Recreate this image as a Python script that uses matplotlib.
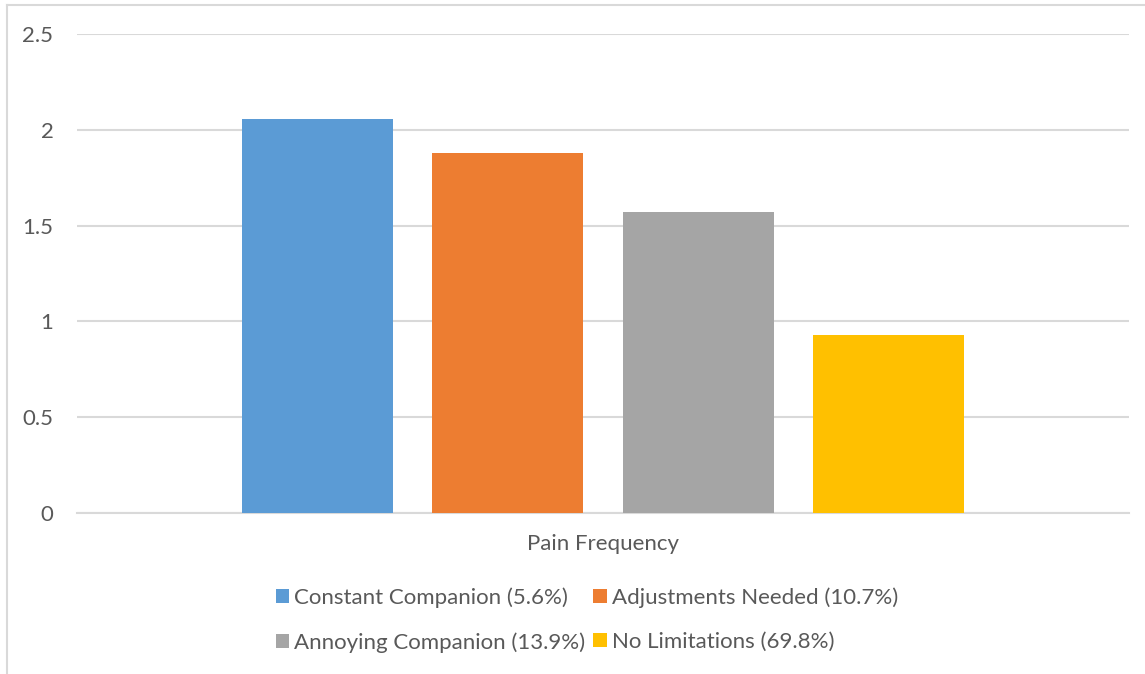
import matplotlib.pyplot as plt
from matplotlib.lines import Line2D

plt.rcParams['font.family'] = ['Lato', 'DejaVu Sans']

category = 'Pain Frequency'
series = ['Constant Companion (5.6%)', 'Adjustments Needed (10.7%)',
          'Annoying Companion (13.9%)', 'No Limitations (69.8%)']
values = [2.056, 1.879, 1.571, 0.929]
colors = ['#5B9BD5', '#ED7D31', '#A5A5A5', '#FFC000']
yticks = [0, 0.5, 1, 1.5, 2, 2.5]

text_color = '#595959'
grid_color = '#D9D9D9'

fig = plt.figure(figsize=(11.45, 6.74), dpi=100)
ax = fig.add_axes([77 / 1145, 161 / 674, 1052 / 1145, 479 / 674])

# one category, four series side by side
step = 0.1811
width = 0.1435
n = len(series)
bars = []
for i, (name, val, col) in enumerate(zip(series, values, colors)):
    offset = (i - (n - 1) / 2) * step
    bars.append(ax.bar(offset, val, width=width, color=col, label=name, zorder=3))

ax.set_xlim(-0.5, 0.5)
ax.set_ylim(0, 2.5)
ax.set_yticks(yticks)
ax.set_yticklabels(['0', '0.5', '1', '1.5', '2', '2.5'])
ax.set_xticks([0])
ax.set_xticklabels([category])
ax.tick_params(axis='y', length=0, pad=17, labelsize=16, labelcolor=text_color)
ax.tick_params(axis='x', length=0, pad=15, labelsize=16, labelcolor=text_color)
ax.yaxis.grid(True, color=grid_color, linewidth=1.5, zorder=0)
for s in ['left', 'right', 'top']:
    ax.spines[s].set_visible(False)
ax.spines['bottom'].set_color(grid_color)
ax.spines['bottom'].set_linewidth(1.5)

# legend fills row by row, so reorder for matplotlib's column-first layout
order = [0, 2, 1, 3]
leg = fig.legend([bars[i] for i in order], [series[i] for i in order],
                 loc='center', bbox_to_anchor=(587 / 1145, 1 - 620 / 674), ncol=2,
                 frameon=False, fontsize=16, handlelength=0.6, handleheight=0.6,
                 handletextpad=0.25, columnspacing=0.35, labelspacing=1.1)
for t in leg.get_texts():
    t.set_color(text_color)

# outer chart border (left and top edges)
fig.add_artist(Line2D([7 / 1145, 7 / 1145], [0, 1 - 5 / 674],
                      transform=fig.transFigure, color=grid_color, linewidth=1.5))
fig.add_artist(Line2D([7 / 1145, 1], [1 - 5 / 674, 1 - 5 / 674],
                      transform=fig.transFigure, color=grid_color, linewidth=1.5))

fig.savefig('out.png', dpi=100, facecolor='white')
